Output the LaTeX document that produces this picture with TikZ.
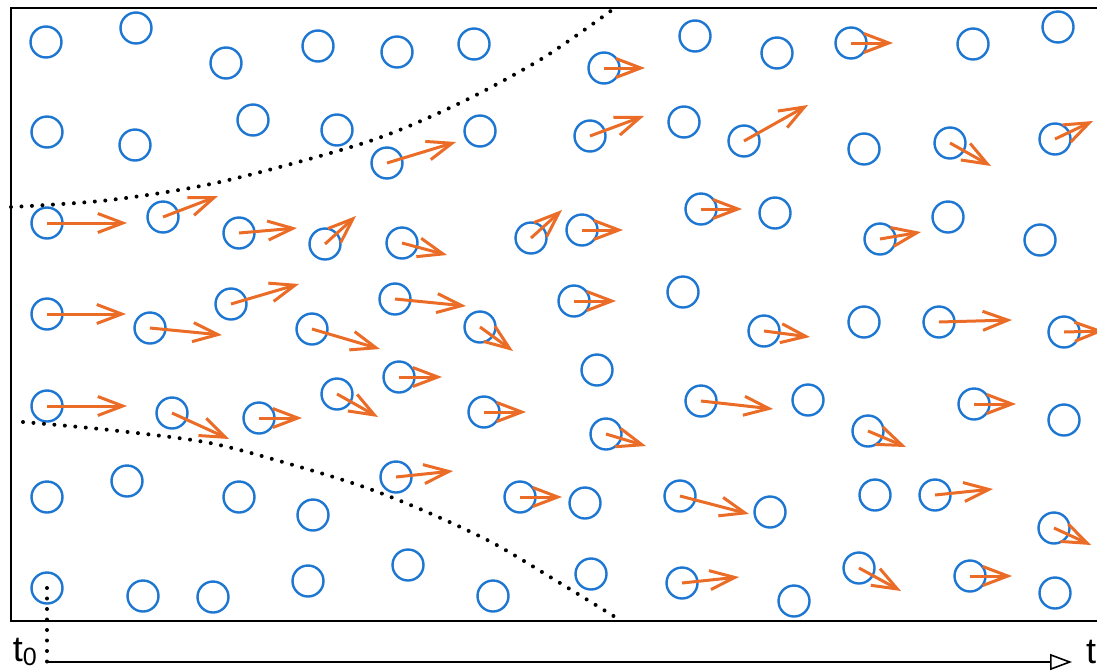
\documentclass[tikz,border=0pt]{standalone}
\usepackage{fontspec}
\setmainfont{Liberation Sans}
\usetikzlibrary{arrows.meta}
\definecolor{ballblue}{RGB}{28,118,210}
\definecolor{arroworange}{RGB}{234,108,38}

\begin{document}
\begin{tikzpicture}[x=1pt,y=-1pt,
	particle/.style={circle,draw=ballblue,line width=2.4pt,minimum size=31pt,inner sep=0pt},
	velocity/.style={draw=arroworange,line width=3pt,-{Straight Barb[length=25pt,width=19pt,line width=3pt]}},
	boundary/.style={line width=4pt,line cap=round,dash pattern=on 0pt off 10.5pt},
	label/.style={inner sep=0pt,font=\fontsize{36}{36}\selectfont}]
	\path[use as bounding box,clip] (0,0) rectangle (1097,670);
	\draw[line width=2pt] (11,8) rectangle (1120,621);
\foreach \x/\y [count=\i] in {46/42, 136/28, 226/63, 318/46, 397/52, 474/44, 695/36, 777/53, 973/44, 1058/27,
		47/132, 135/145, 253/120, 337/130, 480/131, 684/122, 864/149,
		775/213, 948/217, 1040/240, 683/292, 864/322, 597/370, 808/400, 1064/420,
		47/497, 127/481, 239/497, 313/515, 585/503, 770/512, 875/495,
		143/596, 213/597, 308/581, 408/565, 493/596, 591/574, 794/601, 1055/593}
	\node[particle] (still\i) at (\x,\y) {};
\foreach \x/\y/\u/\v [count=\i] in {604/68/41/0, 851/43/42/0,
		387/163/69/-21, 590/136/54/-20, 744/141/64/-36, 950/143/41/23, 1055/139/38/-18,
		47/223/80/0, 163/217/55/-21, 239/233/58/-5, 325/244/31/-28, 402/243/45/12,
		531/238/31/-28, 582/230/41/0, 701/209/41/0, 880/239/41/-7,
		47/314/79/0, 150/328/72/7, 231/304/68/-20, 312/329/68/20, 395/299/71/7,
		480/327/33/24, 574/301/42/0, 764/331/46/6, 939/322/73/-2, 1064/332/40/-1,
		47/406/80/0, 172/413/57/26, 259/418/43/0, 337/394/41/23, 399/377/43/0,
		484/412/42/0, 606/434/40/12, 701/401/72/8, 868/431/38/16, 974/404/42/0,
		396/477/57/-6, 520/497/42/0, 680/496/69/18, 935/495/58/-6, 1054/528/37/17,
		682/583/57/-6, 859/568/42/23, 970/576/42/0}
	{
	\node[particle] (mover\i) at (\x,\y) {};
	\draw[velocity] (mover\i.center) -- ++(\u,\v);
	}
	\draw[boundary] plot[smooth] coordinates {(11,207) (110,200) (220,182) (367,142) (460,103) (543,58) (612,10)};
	\draw[boundary] plot[smooth] coordinates {(23,422) (110,430) (210,443) (300,467) (367,488) (427,512) (493,543) (560,583) (620,620)};
	\node[particle] (start) at (47,588) {};
	\coordinate (t0) at (47,662);
	\coordinate (tend) at (1072,662);
	\draw[boundary] (start.center) -- (t0);
	\draw[line width=1.6pt,-{Triangle[open,length=22pt,width=16pt,line width=1.6pt]}] (t0) -- (tend);
	\node[label,anchor=base east] (tzero) at (37,661) {t\raisebox{-4pt}{\fontsize{25}{25}\selectfont 0}};
	\node[label,anchor=base west] (tlabel) at (1086,663) {t};
\end{tikzpicture}
\end{document}
